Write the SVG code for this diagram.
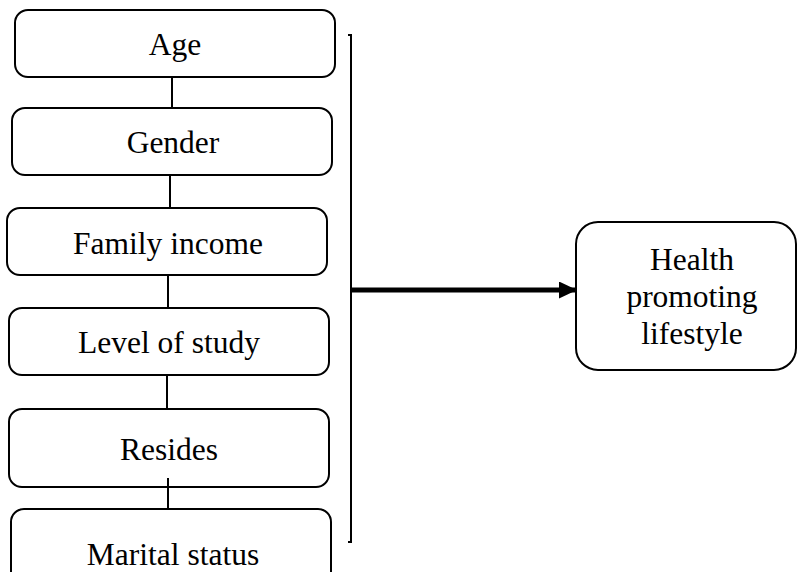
<svg xmlns="http://www.w3.org/2000/svg" width="797" height="572" viewBox="0 0 797 572">
<style>
.box{fill:#fff;stroke:#000;stroke-width:2}
.t{font-family:"Liberation Serif","Times New Roman",serif;font-size:31.5px;fill:#000;text-anchor:middle}
.ln{stroke:#000;stroke-width:2;fill:none}
</style>
<defs>
<marker id="ah" markerWidth="3.6" markerHeight="3.4" refX="3.6" refY="1.7" orient="auto" markerUnits="strokeWidth">
<path d="M0,0 L3.6,1.7 L0,3.4 z" fill="#000"/>
</marker>
</defs>
<rect width="797" height="572" fill="#fff"/>
<g id="connectors">
<line class="ln" x1="172" y1="77" x2="172" y2="108"/>
<line class="ln" x1="170" y1="175" x2="170" y2="208"/>
<line class="ln" x1="168" y1="275" x2="168" y2="308"/>
<line class="ln" x1="167" y1="375" x2="167" y2="409"/>
<line class="ln" x1="168" y1="478" x2="168" y2="509"/>
<path class="ln" d="M348,35 H351 V542 H348" stroke-width="1.5"/>
<line x1="351" y1="290" x2="577" y2="290" stroke="#000" stroke-width="5" marker-end="url(#ah)"/>
</g>
<g id="age">
<rect class="box" x="15" y="10" width="320" height="67" rx="13"/>
<text class="t" x="175" y="55">Age</text>
</g>
<g id="gender">
<rect class="box" x="12" y="108" width="320" height="67" rx="13"/>
<text class="t" x="173" y="153">Gender</text>
</g>
<g id="family-income">
<rect class="box" x="7" y="208" width="320" height="67" rx="13"/>
<text class="t" x="168" y="254">Family income</text>
</g>
<g id="level-of-study">
<rect class="box" x="9" y="308" width="320" height="67" rx="13"/>
<text class="t" x="169" y="353">Level of study</text>
</g>
<g id="resides">
<rect class="box" x="9" y="409" width="320" height="78" rx="13"/>
<text class="t" x="169" y="460">Resides</text>
<line class="ln" x1="168" y1="478" x2="168" y2="487"/>
</g>
<g id="marital-status">
<rect class="box" x="11" y="509" width="320" height="75" rx="13"/>
<text class="t" x="173" y="565">Marital status</text>
</g>
<g id="health-promoting-lifestyle">
<rect class="box" x="576" y="222" width="220" height="148" rx="22"/>
<text class="t" x="692" y="270">Health</text>
<text class="t" x="692" y="307">promoting</text>
<text class="t" x="692" y="344">lifestyle</text>
</g>
</svg>
